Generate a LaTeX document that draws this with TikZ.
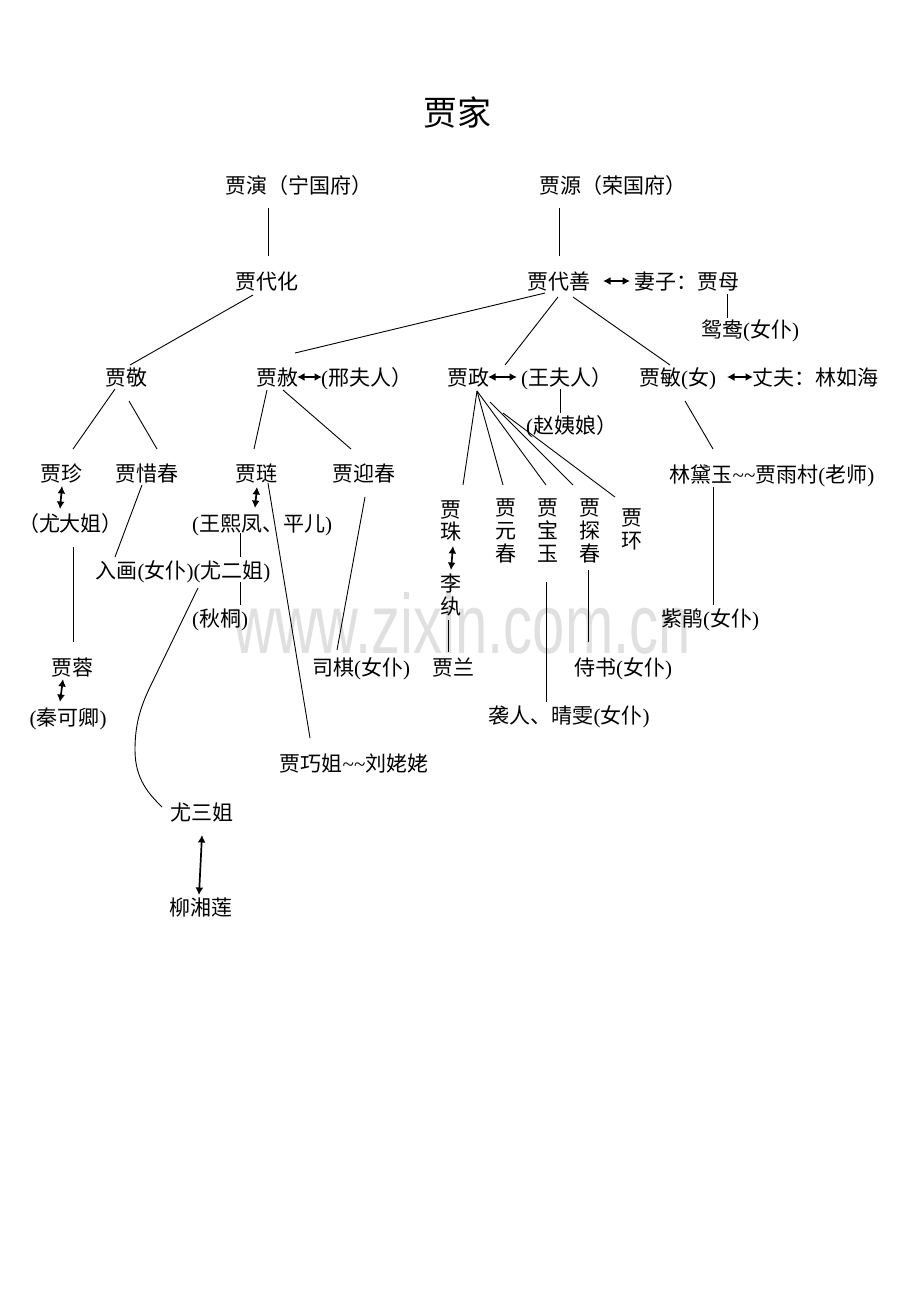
\documentclass[tikz,border=0pt]{standalone}
\usepackage{fontspec}
\setmainfont{Noto Sans CJK SC}
\newfontfamily\lat{Liberation Serif}
\newfontfamily\wmfont{Liberation Sans}
\usetikzlibrary{arrows.meta,calc}
\newcommand\LP{{\lat(}}
\newcommand\RP{{\lat)}}
\newcommand\TL{{\lat\textasciitilde\textasciitilde}}
\newcommand\vst{\rule[-2.5pt]{0pt}{21pt}}
\begin{document}
\begin{tikzpicture}[x=1pt,y=-1pt,
  lbl/.style={inner sep=0pt, text height=18.5pt, text depth=2.5pt, font=\fontsize{21}{22.7}\selectfont},
  vlbl/.style={inner sep=0pt, align=center, font=\fontsize{21}{22.7}\selectfont},
  conn/.style={line width=0.9pt},
  dbl/.style={line width=1.7pt, {Latex[length=7.5pt,width=8pt]}-{Latex[length=7.5pt,width=8pt]}}]
\fill[white] (0,0) rectangle (920,1302);
\useasboundingbox (0,0) rectangle (920,1302);
% watermark
\node[inner sep=0pt, anchor=base west, text=black!12] (wm) at (233,653) {\scalebox{1}[1.45]{\wmfont\fontsize{58}{62}\selectfont www.zixin.com.cn}};
% title
\node[inner sep=0pt, font=\fontsize{34}{40}\selectfont] (title) at (457,112) {贾家};
% nodes
\node[lbl, anchor=west] (yan) at (225,185) {贾演（宁国府）};
\node[lbl, anchor=west] (yuan) at (539,185) {贾源（荣国府）};
\node[lbl] (daihua) at (267,281) {贾代化};
\node[lbl] (daishan) at (559,281) {贾代善};
\node[lbl, anchor=west] (wife) at (634,281) {妻子：贾母};
\node[lbl] (yuanyang) at (750,329) {鸳鸯\LP 女仆\RP};
\node[lbl] (jing) at (126,377) {贾敬};
\node[lbl] (she) at (277,377) {贾赦};
\node[lbl, anchor=west] (xing) at (321,377) {\LP 邢夫人）};
\node[lbl] (zheng) at (468,377) {贾政};
\node[lbl, anchor=west] (wang) at (521,377) {\LP 王夫人）};
\node[lbl] (min) at (677.5,377) {贾敏\LP 女\RP};
\node[lbl, anchor=west] (husband) at (752,377) {丈夫：林如海};
\node[lbl, anchor=west] (zhao) at (526,425) {\LP 赵姨娘）};
\node[lbl] (zhen) at (61,473) {贾珍};
\node[lbl] (xichun) at (147,473) {贾惜春};
\node[lbl] (lian) at (256,473) {贾琏};
\node[lbl] (yingchun) at (364,473) {贾迎春};
\node[lbl] (daiyu) at (772,474) {林黛玉\TL 贾雨村\LP 老师\RP};
\node[lbl] (youda) at (70.5,523) {（尤大姐）};
\node[lbl] (xifeng) at (262,523) {\LP 王熙凤、平儿\RP};
\node[lbl] (ruhua) at (183,570) {入画\LP 女仆\RP\LP 尤二姐\RP};
\node[lbl] (qiutong) at (220,618) {\LP 秋桐\RP};
\node[lbl] (zijuan) at (710,618) {紫鹃\LP 女仆\RP};
\node[lbl] (rong) at (72,667) {贾蓉};
\node[lbl] (siqi) at (361,667) {司棋\LP 女仆\RP};
\node[lbl] (lan) at (453,667) {贾兰};
\node[lbl] (shishu) at (623,667) {侍书\LP 女仆\RP};
\node[lbl] (qin) at (68,717) {\LP 秦可卿\RP};
\node[lbl] (xiren) at (569,715) {袭人、晴雯\LP 女仆\RP};
\node[lbl] (qiaojie) at (354,763) {贾巧姐\TL 刘姥姥};
\node[lbl] (yousan) at (202,812) {尤三姐};
\node[lbl] (liu) at (201,907) {柳湘莲};
\node[vlbl] (zhu) at (451,520.5) {\vst 贾\\\vst 珠};
\node[vlbl] (li) at (451,595) {\vst 李\\\vst 纨};
\node[vlbl] (yuanchun) at (506,530.5) {\vst 贾\\\vst 元\\\vst 春};
\node[vlbl] (baoyu) at (548,530.5) {\vst 贾\\\vst 宝\\\vst 玉};
\node[vlbl] (tanchun) at (590,530.5) {\vst 贾\\\vst 探\\\vst 春};
\node[vlbl] (huan) at (632,529) {\vst 贾\\\vst 环};
% connectors
\draw[conn] ($(yan.west)+(43,23)$) -- ($(daihua)+(1,-25)$);
\draw[conn] ($(yuan.west)+(20,23)$) -- ($(daishan)+(0,-25)$);
\draw[conn] ($(daihua)+(-14,14)$) -- ($(jing)+(4,-12)$);
\draw[conn] ($(daishan)+(-14,12)$) -- ($(she)+(18,-24)$);
\draw[conn] ($(daishan)+(-1,16)$) -- ($(zheng)+(37,-12)$);
\draw[conn] ($(daishan)+(14,16)$) -- ($(min)+(-7.5,-12)$);
\draw[conn] ($(wife.west)+(93,13)$) -- ($(yuanyang)+(-23,-11)$);
\draw[dbl] ($(daishan)+(44,0)$) -- ($(wife.west)+(-4,0)$);
\draw[dbl] ($(she)+(20,0)$) -- ($(xing.west)+(1,0)$);
\draw[dbl] ($(zheng)+(20,0)$) -- ($(wang.west)+(-4,0)$);
\draw[dbl] ($(min)+(49.5,0)$) -- ($(husband.west)+(1,0)$);
\draw[conn] ($(wang.west)+(39,12)$) -- ($(zhao.west)+(34,-12)$);
\draw[conn] ($(jing)+(-11,12)$) -- ($(zhen)+(12,-24)$);
\draw[conn] ($(jing)+(3,24)$) -- ($(xichun)+(10,-24)$);
\draw[conn] ($(she)+(-10,13)$) -- ($(lian)+(-2,-24)$);
\draw[conn] ($(she)+(6,13)$) -- ($(yingchun)+(-13,-24)$);
\draw[conn] ($(zheng)+(9,14)$) -- ($(zhu)+(12,-35.5)$);
\draw[conn] ($(zheng)+(9,14)$) -- ($(yuanchun)+(-3,-45.5)$);
\draw[conn] ($(zheng)+(9,14)$) -- ($(baoyu)+(-2,-45.5)$);
\draw[conn] ($(zheng)+(22,25)$) -- ($(tanchun)+(-17,-45.5)$);
\draw[conn] ($(zheng)+(35,36)$) -- ($(huan)+(-17,-32)$);
\draw[conn] ($(min)+(7.5,24)$) -- ($(daiyu)+(-59,-25)$);
\draw[dbl] ($(zhen)+(1,13)$) -- ($(youda)+(-10.5,-14)$);
\draw[dbl] ($(lian)+(1,14)$) -- ($(xifeng)+(-7,-15)$);
\draw[conn] ($(xichun)+(-5,12)$) -- ($(ruhua)+(-68,-13)$);
\draw[conn] ($(lian)+(12,10)$) -- ($(qiaojie)+(-44,-25)$);
\draw[conn] ($(yingchun)+(1,24)$) -- ($(siqi)+(-24,-17)$);
\draw[conn] ($(xifeng)+(-22,10)$) -- ($(ruhua)+(57,-13)$);
\draw[conn] ($(ruhua)+(57,12)$) -- ($(qiutong)+(20,-13)$);
\draw[conn] ($(youda)+(2.5,24)$) -- ($(rong)+(1,-25)$);
\draw[dbl] ($(rong)+(-9,12)$) -- ($(qin)+(-8,-15)$);
\draw[conn] ($(ruhua)+(15,18)$) -- (150,687) .. controls (140,708) and (135,725) .. (135,750) .. controls (135,780) and (150,795) .. ($(yousan)+(-40,-5)$);
\draw[dbl] ($(yousan)+(0,23)$) -- ($(liu)+(-2,-12)$);
\draw[dbl] ($(zhu)+(2,25.5)$) -- ($(li)+(0,-25)$);
\draw[conn] ($(li)+(-3,25)$) -- ($(lan)+(-5,-15)$);
\draw[conn] ($(baoyu)+(-2,51.5)$) -- ($(xiren)+(-23,-13)$);
\draw[conn] ($(tanchun)+(-2,39.5)$) -- ($(shishu)+(-35,-25)$);
\draw[conn] ($(daiyu)+(-59,13)$) -- ($(zijuan)+(3,-13)$);
\end{tikzpicture}
\end{document}
